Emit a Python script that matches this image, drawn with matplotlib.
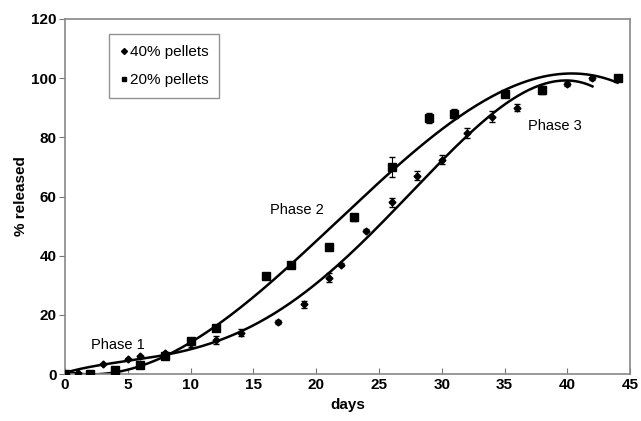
import numpy as np
import matplotlib
matplotlib.use("Agg")
import matplotlib.pyplot as plt
from matplotlib.lines import Line2D

plt.rcParams["font.family"] = ["Liberation Sans", "DejaVu Sans"]

# 40% pellets (diamonds)
days_40 = [0, 1, 3, 5, 6, 8, 10, 12, 14, 17, 19, 21, 22, 24, 26, 28, 30, 32, 34, 36, 38, 40, 42]
rel_40 = [0, 0.5, 3.5, 5, 6, 7, 10.5, 11.5, 14, 17.5, 23.5, 32.5, 37, 48.5, 58, 67, 72.5, 81.5, 87, 90, 96.5, 98, 100]
err_40 = [0, 0, 0, 0, 0, 0.5, 1.5, 1.5, 1.2, 0.6, 1.2, 1.5, 0.6, 0.6, 1.5, 1.5, 1.5, 1.8, 1.8, 1.2, 0.6, 0.6, 0.5]

# 20% pellets (squares)
days_20 = [0, 2, 4, 6, 8, 10, 12, 16, 18, 21, 23, 26, 29, 31, 35, 38, 44]
rel_20 = [0, 0, 1.5, 3, 6, 11, 15.5, 33, 37, 43, 53, 70, 86.5, 88, 94.5, 96, 100]
err_20 = [0, 0, 0, 0, 0.8, 1, 0.8, 0.5, 0.5, 0.5, 1.2, 3.5, 1.8, 1.5, 0.8, 1.2, 0.8]

fig = plt.figure(figsize=(6.41, 4.21), dpi=100)
ax = fig.add_axes([0.1014, 0.1116, 0.8816, 0.8433])

# polynomial trend lines fitted to each series
for d, r in [(days_40, rel_40), (days_20, rel_20)]:
    c = np.polyfit(d, r, 4)
    xs = np.linspace(0, max(d), 200)
    ax.plot(xs, np.polyval(c, xs), color="black", lw=1.8, zorder=2)

ax.errorbar(days_40, rel_40, yerr=err_40, fmt="D", ms=3.5, color="black",
            ecolor="black", elinewidth=0.8, capsize=2.5, zorder=3)
ax.errorbar(days_20, rel_20, yerr=err_20, fmt="s", ms=5.5, color="black",
            ecolor="black", elinewidth=0.8, capsize=2.5, zorder=3)

ax.text(2.1, 9.8, "Phase 1", fontsize=10.5, va="center")
ax.text(16.3, 55.4, "Phase 2", fontsize=10.5, va="center")
ax.text(36.9, 83.8, "Phase 3", fontsize=10.5, va="center")

ax.set_xlim(0, 45)
ax.set_ylim(0, 120)
ax.set_xticks(range(0, 46, 5))
ax.set_yticks(range(0, 121, 20))
ax.set_xlabel("days", fontsize=11, fontweight="bold")
ax.set_ylabel("% released", fontsize=11, fontweight="bold", labelpad=2)
for lab in ax.get_xticklabels() + ax.get_yticklabels():
    lab.set_fontweight("bold")
    lab.set_fontsize(11)
ax.tick_params(axis="x", direction="in", length=4, color="#777777", pad=3)
ax.tick_params(axis="y", direction="out", length=4, color="#777777", pad=2)
for s in ax.spines.values():
    s.set_color("#888888")
    s.set_linewidth(1.2)

handles = [Line2D([], [], ls="none", marker="D", ms=3, color="black"),
           Line2D([], [], ls="none", marker="s", ms=3.5, color="black")]
ax.legend(handles, ["40% pellets", "20% pellets"], loc="upper left",
          bbox_to_anchor=(0.07, 0.97), frameon=True, fancybox=False,
          edgecolor="#777777", fontsize=11, handletextpad=0.15,
          handlelength=0.5, labelspacing=0.95, borderpad=0.7,
          borderaxespad=0.3)

fig.savefig("out.png", dpi=100)
